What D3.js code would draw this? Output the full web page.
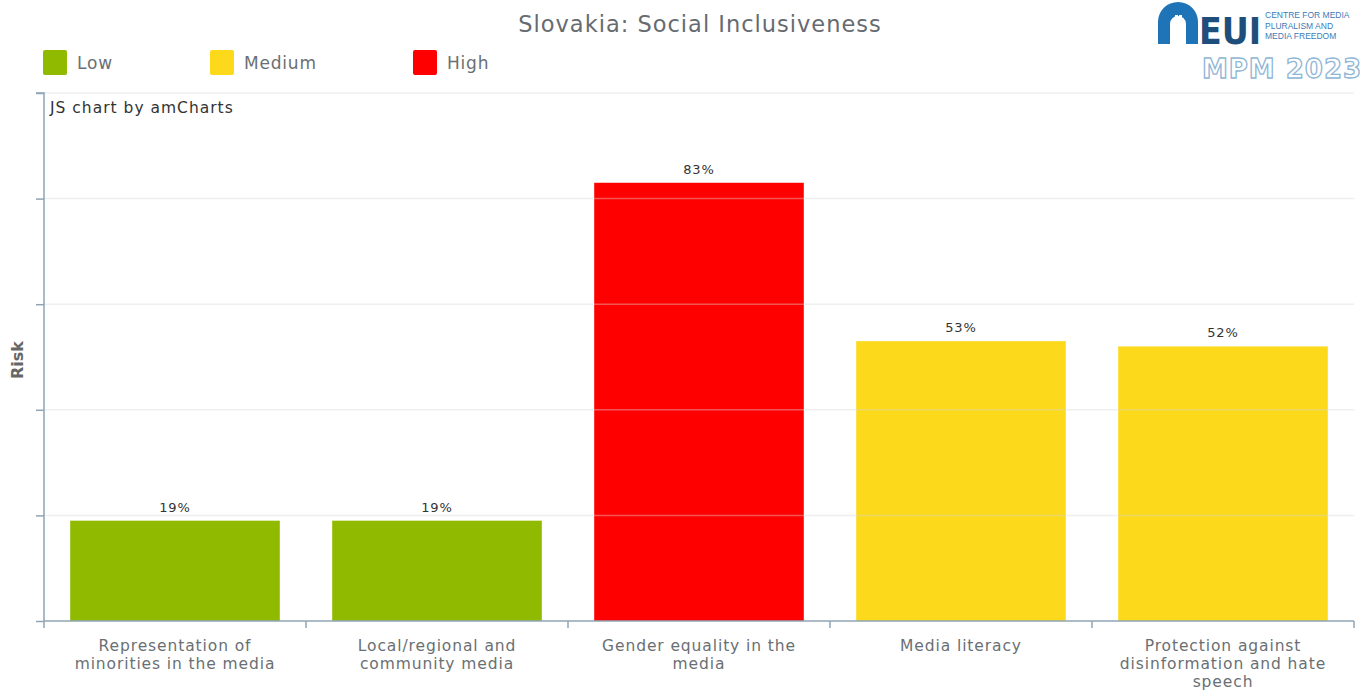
<!DOCTYPE html>
<html><head><meta charset="utf-8">
<script src="https://cdn.jsdelivr.net/npm/d3@7/dist/d3.min.js"></script>
<style>body{margin:0;background:#fff;}svg{display:block;font-family:"DejaVu Sans",Verdana,sans-serif;}</style>
</head><body>
<svg id="c" width="1371" height="690"></svg>
<script>
const categories = ["Representation of minorities in the media","Local/regional and community media","Gender equality in the media","Media literacy","Protection against disinformation and hate speech"];
const values = [19, 19, 83, 53, 52];
const riskLevels = ["Low","Low","High","Medium","Medium"];
const legendLabels = ["Low","Medium","High"];
const legendColors = ["#8fba00","#fcd91b","#ff0000"];
const yTicks = [0,20,40,60,80,100];
const title = "Slovakia: Social Inclusiveness";

const svg = d3.select("#c");
const color = d3.scaleOrdinal().domain(legendLabels).range(legendColors);
const m = {l:44, r:1354, t:93, b:621};
const x = d3.scaleBand().domain(categories).range([m.l, m.r]).paddingInner(0.2).paddingOuter(0.1);
const xb = d3.scaleBand().domain(categories).range([m.l, m.r]);
const y = d3.scaleLinear().domain([0,100]).range([m.b, m.t]);
const axisCol = "#8fa4b4";

// title
svg.append("text").attr("x",700).attr("y",32).attr("text-anchor","middle")
  .attr("font-size",22.5).attr("letter-spacing",1.0).attr("fill","#666b70").text(title);

// legend
const lx = [43,210,413];
legendLabels.forEach((d,i)=>{
  svg.append("rect").attr("x",lx[i]).attr("y",50).attr("width",24).attr("height",25).attr("rx",2).attr("fill",legendColors[i]);
  svg.append("text").attr("x",lx[i]+34).attr("y",69).attr("font-size",17).attr("letter-spacing",0.8).attr("fill","#6a6f74").text(d);
});

// bars
svg.append("g").selectAll("rect").data(categories).join("rect")
  .attr("x",d=>x(d)).attr("width",x.bandwidth())
  .attr("y",(d,i)=>y(values[i])).attr("height",(d,i)=>y(0)-y(values[i]))
  .attr("fill",(d,i)=>color(riskLevels[i]));

// gridlines over bars
svg.append("g").selectAll("line").data(yTicks.slice(1)).join("line")
  .attr("x1",m.l).attr("x2",m.r).attr("y1",d=>y(d)).attr("y2",d=>y(d))
  .attr("stroke","#d8d8d8").attr("stroke-opacity",0.4).attr("stroke-width",1.5);

// y axis
const ya = svg.append("g").attr("transform",`translate(${m.l},0)`)
  .call(d3.axisLeft(y).tickValues(yTicks).tickSize(8).tickFormat(""));
ya.selectAll("path,line").attr("stroke",axisCol).attr("stroke-width",1.5);
ya.select(".domain").attr("d",`M-8,${m.t}H0V${m.b}`);

// x axis
const xa = svg.append("g").attr("transform",`translate(0,${m.b})`)
  .call(d3.axisBottom(xb).tickSize(0).tickFormat(""));
xa.select(".domain").attr("stroke",axisCol).attr("stroke-width",1.5).attr("d",`M${m.l},0H${m.r}`);
const bounds = categories.map(d=>xb(d)).concat([m.r]);
xa.selectAll(".bt").data(bounds).join("line").attr("class","bt")
  .attr("x1",d=>d).attr("x2",d=>d).attr("y1",0).attr("y2",7)
  .attr("stroke",axisCol).attr("stroke-width",1.5);

// value labels
svg.append("g").selectAll("text").data(categories).join("text")
  .attr("x",d=>x(d)+x.bandwidth()/2).attr("y",(d,i)=>y(values[i])-9)
  .attr("text-anchor","middle").attr("font-size",13).attr("letter-spacing",0.9).attr("fill","#333")
  .text((d,i)=>values[i]+"%");

// category labels (wrapped)
const labSize = 15.5, labLs = 0.9;
function wrap(str, maxW){
  const words = str.split(" "); const lines=[]; let cur="";
  const t = svg.append("text").attr("font-size",labSize).attr("letter-spacing",labLs);
  words.forEach(w=>{
    const test = cur? cur+" "+w : w;
    t.text(test);
    if(t.node().getComputedTextLength()>maxW && cur){ lines.push(cur); cur=w; } else cur=test;
  });
  if(cur) lines.push(cur); t.remove(); return lines;
}
const labelG = svg.append("g");
categories.forEach(d=>{
  const lines = wrap(d, 212);
  const cx = xb(d)+xb.bandwidth()/2;
  const t = labelG.append("text").attr("x",cx).attr("y",651)
    .attr("text-anchor","middle").attr("font-size",labSize).attr("letter-spacing",labLs).attr("fill","#6a6f74");
  lines.forEach((ln,j)=>t.append("tspan").attr("x",cx).attr("dy",j?18.2:0).text(ln));
});

// y axis title
svg.append("text").attr("transform","translate(23,360) rotate(-90)").attr("text-anchor","middle")
  .attr("font-size",16).attr("font-weight","bold").attr("fill","#666").text("Risk");

// credit
svg.append("text").attr("x",50).attr("y",113).attr("font-size",15.5).attr("letter-spacing",1.0).attr("fill","#333").text("JS chart by amCharts");

// logo
const lg = svg.append("g");
lg.append("path").attr("d","M1158,44 V22 A20,20 0 0 1 1198,22 V44 H1186 V24 A6,6 0 0 0 1170,24 V44 Z").attr("fill","#1f74b8");
lg.append("rect").attr("x",1175).attr("y",15).attr("width",3).attr("height",4).attr("fill","#fff");
lg.append("rect").attr("x",1179).attr("y",15).attr("width",3).attr("height",4).attr("fill","#fff");
lg.append("text").attr("x",1199).attr("y",44).attr("font-size",37).attr("font-weight","bold")
  .attr("font-family","'Liberation Sans Narrow','DejaVu Sans Condensed',sans-serif").attr("fill","#1e4f7c").text("EUI");
["CENTRE FOR MEDIA","PLURALISM AND","MEDIA FREEDOM"].forEach((s,i)=>{
  lg.append("text").attr("x",1265).attr("y",18+i*10.5).attr("font-size",8.5).attr("fill","#3a7cb8")
    .attr("font-family","'Liberation Sans Narrow',sans-serif").text(s);
});
lg.append("text").attr("x",1282).attr("y",78).attr("text-anchor","middle").attr("font-size",26)
  .attr("font-weight","bold").attr("fill","#fff").attr("stroke","#8fb6d6").attr("stroke-width",1.3)
  .attr("letter-spacing",1).text("MPM 2023");
</script>
</body></html>
